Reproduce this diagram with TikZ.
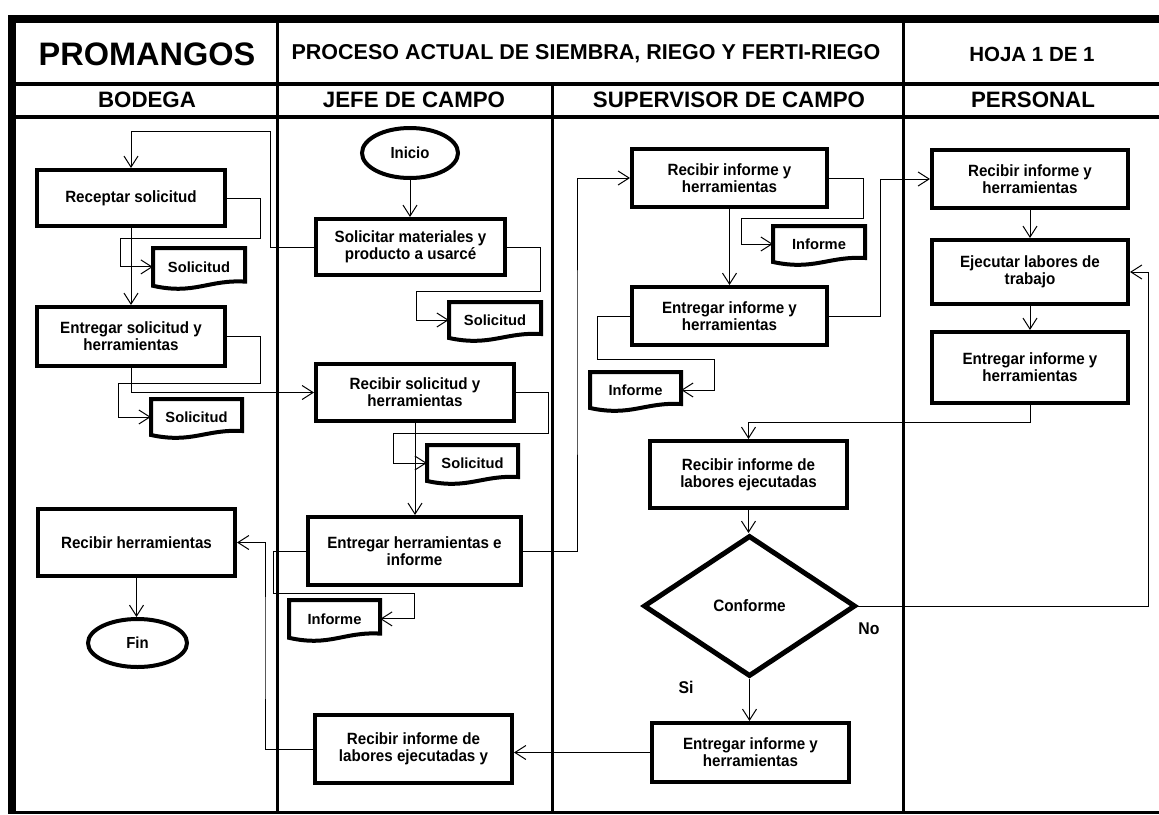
\documentclass[tikz,border=0pt]{standalone}
\usepackage{fontspec}
\setmainfont{Liberation Sans}
\newfontfamily\narrowsans{Liberation Sans}[FakeStretch=0.93]
\usetikzlibrary{shapes.geometric,arrows.meta,calc}

\tikzset{
  stepbox/.style={draw, rectangle, line width=4pt, align=center, inner sep=2pt,
    font=\narrowsans\fontsize{16.3}{17.3}\selectfont\bfseries},
  termbox/.style={draw, ellipse, line width=4pt, inner sep=0pt,
    font=\narrowsans\fontsize{16}{18}\selectfont\bfseries},
  decbox/.style={draw, diamond, line width=5pt, inner sep=0pt,
    font=\narrowsans\fontsize{16.5}{18}\selectfont\bfseries},
  doctext/.style={inner sep=0pt, font=\fontsize{14.7}{16}\selectfont\bfseries},
  docline/.style={line width=4pt, line join=miter},
  lbl/.style={inner sep=0pt, font=\narrowsans\fontsize{17}{18}\selectfont\bfseries},
  conn/.style={line width=1pt},
  arr/.style={conn, -{Straight Barb[length=11pt,width=14pt]}},
  brandtxt/.style={font=\fontsize{32.5}{36}\selectfont\bfseries},
  titletxt/.style={font=\fontsize{21.5}{24}\selectfont\bfseries},
  sheettxt/.style={font=\fontsize{20.5}{24}\selectfont\bfseries},
  lanetxt/.style={font=\fontsize{22.3}{24}\selectfont\bfseries},
}

% document symbol: name, left, top, width, height, text
\newcommand\docnode[6]{%
  \draw[docline] (#2,#3) -- ({#2+#4},#3) -- ({#2+#4},{#3+0.8*#5})
    .. controls ({#2+0.6*#4},{#3+0.75*#5}) and ({#2+0.45*#4},{#3+1.12*#5}) .. (#2,{#3+0.9*#5}) -- cycle;
  \node[doctext, minimum width=#4, minimum height={0.9*#5}] (#1) at ({#2+0.5*#4},{#3+0.45*#5}) {#6};
}

\begin{document}
\begin{tikzpicture}[x=1pt,y=-1pt]
\useasboundingbox (0,0) rectangle (1159,814);

% frame and lanes
\fill (8,15) rectangle (1159,23);
\fill (8,15) rectangle (16,814);
\fill (16,81.5) rectangle (1159,85.5);
\fill (16,114.5) rectangle (1159,118.5);
\fill (275.5,23) rectangle (279,813);
\fill (550.5,85) rectangle (554,813);
\fill (901.5,23) rectangle (905,813);
\fill (16,811) rectangle (1159,813.5);

% header
\node[brandtxt] (brand) at (147,54) {PROMANGOS};
\node[titletxt] (title) at (586,54) {PROCESO ACTUAL DE SIEMBRA, RIEGO Y FERTI-RIEGO};
\node[sheettxt] (sheet) at (1032,54) {HOJA 1 DE 1};
\node[lanetxt] (laneA) at (147,100) {BODEGA};
\node[lanetxt] (laneB) at (414,100) {JEFE DE CAMPO};
\node[lanetxt] (laneC) at (729,100) {SUPERVISOR DE CAMPO};
\node[lanetxt] (laneD) at (1033,100) {PERSONAL};

% BODEGA
\node[stepbox, minimum width=188, minimum height=56] (rec) at (131,198) {Receptar solicitud};
\docnode{sol1}{153}{248}{92}{42}{Solicitud}
\node[stepbox, minimum width=188, minimum height=59] (ent) at (131,336.5) {Entregar solicitud y\\herramientas};
\docnode{sol2}{151}{399}{91}{40}{Solicitud}
\node[stepbox, minimum width=197, minimum height=67] (rh) at (136.5,542.5) {Recibir herramientas};
\node[termbox, minimum width=99, minimum height=48] (fin) at (137.5,643) {Fin};

% JEFE DE CAMPO
\node[termbox, minimum width=96, minimum height=50] (ini) at (410,153) {Inicio};
\node[stepbox, minimum width=189, minimum height=56] (sm) at (410.5,247) {Solicitar materiales y\\producto a usarcé};
\docnode{sj1}{449}{302}{92}{40}{Solicitud}
\node[stepbox, minimum width=198, minimum height=57] (rs) at (415,392.5) {Recibir solicitud y\\herramientas};
\docnode{sj2}{427}{445}{91}{40}{Solicitud}
\node[stepbox, minimum width=213, minimum height=68] (eh) at (414.5,551) {Entregar herramientas e\\informe};
\docnode{ij}{289}{600}{91}{42}{Informe}
\node[stepbox, minimum width=197, minimum height=68] (rl) at (413.5,749) {Recibir informe de\\labores ejecutadas y};

% SUPERVISOR DE CAMPO
\node[stepbox, minimum width=195, minimum height=58] (ri) at (729.5,178) {Recibir informe y\\herramientas};
\docnode{is1}{773}{226}{92}{40}{Informe}
\node[stepbox, minimum width=195, minimum height=58] (ei) at (729.5,316) {Entregar informe y\\herramientas};
\docnode{is2}{590}{372}{91}{40}{Informe}
\node[stepbox, minimum width=197, minimum height=67] (rle) at (748.5,474.5) {Recibir informe de\\labores ejecutadas};
\node[decbox, minimum width=212, minimum height=141] (dec) at (749.5,606) {Conforme};
\node[stepbox, minimum width=197, minimum height=59] (eb) at (750.5,752.5) {Entregar informe y\\herramientas};
\node[lbl] (no) at (869,629) {No};
\node[lbl] (si) at (686,687) {Si};

% PERSONAL
\node[stepbox, minimum width=196, minimum height=58] (pr) at (1030,179) {Recibir informe y\\herramientas};
\node[stepbox, minimum width=196, minimum height=64] (pe) at (1030,272) {Ejecutar labores de\\trabajo};
\node[stepbox, minimum width=196, minimum height=71] (pen) at (1030,367.5) {Entregar informe y\\herramientas};

% connectors
\draw[arr] (ini.south) -- (ini.south |- sm.north);
\draw[arr] (sm.west) -| (270,131) -| (rec.north);
\draw[arr] (sm.east) -| (540,291) -- (416,291) |- (sj1.west);
\draw[arr] (rec.east) -| (260,238) -- (120,238) |- (sol1.west);
\draw[arr] (rec.south) -- (ent.north);
\draw[arr] (ent.east) -| (260,383) -- (118,383) |- (sol2.west);
\draw[arr] (ent.south) |- (rs.west);
\draw[arr] (rs.east) -| (548,433) -- (393,433) |- (sj2.west);
\draw[arr] (rs.south) -- (rs.south |- eh.north);
\draw[arr] (eh.east) -| (577,360) |- (ri.west);
\draw[arr] (eh.west) -| (273,593) -- (414,593) |- (ij.east);
\draw[arr] (rh.south) -- (rh.south |- fin.north);
\draw[arr] (rl.west) -| (265,650) |- (rh.east);
\draw[arr] (eb.west) -- (eb.west -| rl.east);
\draw[arr] (ri.east) -| (863,218) -- (741,218) |- (is1.west);
\draw[arr] (ri.south) -- (ri.south |- ei.north);
\draw[arr] (ei.west) -| (597,359) -- (714,359) |- (is2.east);
\draw[arr] (ei.east) -| (880,250) |- (pr.west);
\draw[arr] (pr.south) -- (pe.north);
\draw[arr] (pe.south) -- (pen.north);
\draw[arr] (pen.south) -- ++(0,17) -| (rle.north);
\draw[arr] (rle.south) -- (rle.south |- dec.north);
\draw[arr] (dec.east) -| (1148,440) |- (pe.east);
\draw[arr] (dec.south) -- (dec.south |- eb.north);
\end{tikzpicture}
\end{document}
